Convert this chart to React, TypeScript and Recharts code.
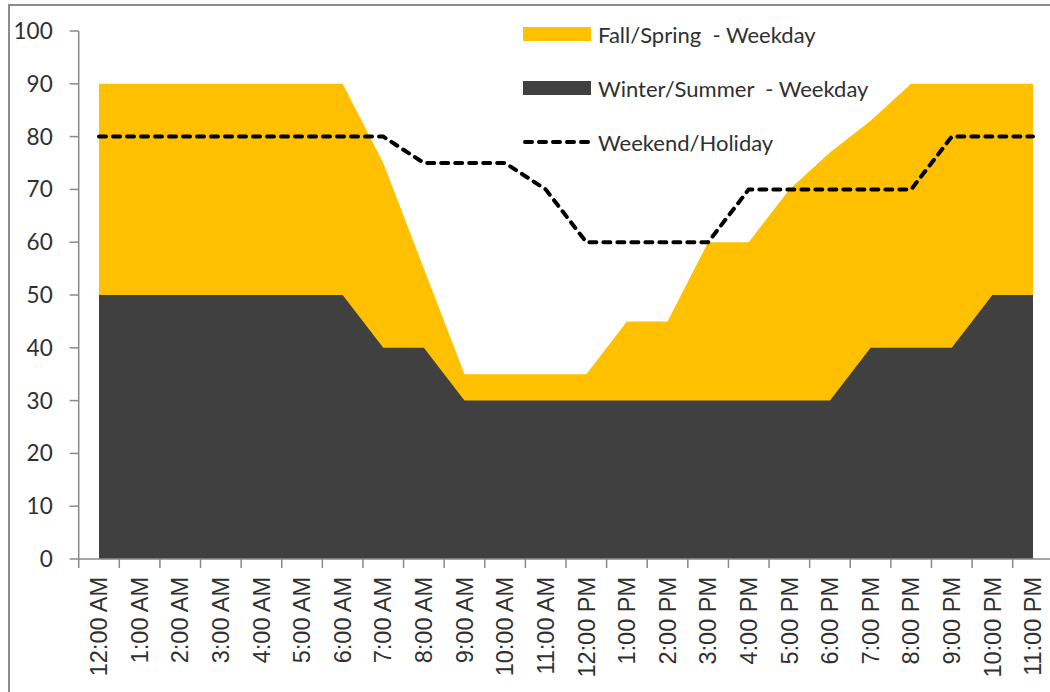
import React from "react";
import { ComposedChart, Area, Line, XAxis, YAxis, Legend } from "recharts";

const hours = [
  "12:00 AM", "1:00 AM", "2:00 AM", "3:00 AM", "4:00 AM", "5:00 AM",
  "6:00 AM", "7:00 AM", "8:00 AM", "9:00 AM", "10:00 AM", "11:00 AM",
  "12:00 PM", "1:00 PM", "2:00 PM", "3:00 PM", "4:00 PM", "5:00 PM",
  "6:00 PM", "7:00 PM", "8:00 PM", "9:00 PM", "10:00 PM", "11:00 PM",
];
const fallSpring = [90, 90, 90, 90, 90, 90, 90, 75, 55, 35, 35, 35, 35, 45, 45, 60, 60, 70, 77, 83, 90, 90, 90, 90];
const winterSummer = [50, 50, 50, 50, 50, 50, 50, 40, 40, 30, 30, 30, 30, 30, 30, 30, 30, 30, 30, 40, 40, 40, 50, 50];
const weekend = [80, 80, 80, 80, 80, 80, 80, 80, 75, 75, 75, 70, 60, 60, 60, 60, 70, 70, 70, 70, 70, 80, 80, 80];
const yTicks = [0, 10, 20, 30, 40, 50, 60, 70, 80, 90, 100];

const seriesNames = {
  fall: "Fall/Spring  - Weekday",
  winter: "Winter/Summer  - Weekday",
  weekend: "Weekend/Holiday",
};

const data = hours.map((h, i) => ({
  hour: h,
  fall: fallSpring[i],
  winter: winterSummer[i],
  weekend: weekend[i],
}));

const CHART_W = 1100;
const CHART_H = 700;
const MARGIN = { top: 31, right: 46.7, left: 8.7, bottom: 11 };
const Y_AXIS_W = 70;
const X_AXIS_H = 130;
const PLOT_W = CHART_W - MARGIN.left - MARGIN.right - Y_AXIS_W;
const BAND = PLOT_W / hours.length;
const TICK_SIZE = 9;
const TICK_MARGIN = 9;

const YELLOW = "#FFC000";
const DARK = "#404040";
const AXIS = "#898989";
const TEXT = "#303030";

const XTick = (props: any) => {
  const { x, y, payload, index } = props;
  const axisY = y - TICK_SIZE - TICK_MARGIN;
  const left = x - BAND / 2;
  const right = x + BAND / 2;
  return (
    <g>
      <line x1={left} x2={left} y1={axisY} y2={axisY + TICK_SIZE} stroke={AXIS} strokeWidth={1.5} />
      {index === hours.length - 1 && (
        <line x1={right} x2={right} y1={axisY} y2={axisY + TICK_SIZE} stroke={AXIS} strokeWidth={1.5} />
      )}
      <text
        x={x}
        y={y}
        transform={`rotate(-90, ${x}, ${y})`}
        textAnchor="end"
        dy="0.35em"
        fontSize={23.5}
        fontFamily="'Liberation Sans', Arial, sans-serif"
        fill={TEXT}
      >
        {payload.value}
      </text>
    </g>
  );
};

const LegendContent = () => {
  const items = [
    { key: "fall", type: "rect", color: YELLOW },
    { key: "winter", type: "rect", color: DARK },
    { key: "weekend", type: "dash", color: "#000" },
  ];
  return (
    <div style={{ fontFamily: "Lato, sans-serif", fontSize: 22, color: TEXT }}>
      {items.map((it) => (
        <div key={it.key} style={{ display: "flex", alignItems: "center", height: 54 }}>
          <svg width={75} height={20} style={{ display: "block" }}>
            {it.type === "rect" ? (
              <rect x={0} y={3} width={68} height={14} fill={it.color} />
            ) : (
              <line x1={2} x2={66} y1={10} y2={10} stroke="#000" strokeWidth={4} strokeDasharray="7 7" strokeLinecap="round" />
            )}
          </svg>
          <span style={{ whiteSpace: "pre" }}>{(seriesNames as any)[it.key]}</span>
        </div>
      ))}
    </div>
  );
};

export default function App() {
  return (
    <div style={{ position: "fixed", left: 0, top: 0, width: 1050, height: 692, overflow: "hidden", background: "#fff" }}>
      <div
        style={{
          position: "absolute",
          left: 8,
          top: 4,
          width: 1200,
          height: 800,
          border: "2px solid #8c8c8c",
          boxSizing: "border-box",
        }}
      />
      <div style={{ position: "absolute", left: 0, top: 0 }}>
        <ComposedChart width={CHART_W} height={CHART_H} data={data} margin={MARGIN}>
          <XAxis
            dataKey="hour"
            type="category"
            scale="point"
            padding={{ left: BAND / 2, right: BAND / 2 }}
            interval={0}
            height={X_AXIS_H}
            tickSize={TICK_SIZE}
            tickMargin={TICK_MARGIN}
            tickLine={false}
            axisLine={{ stroke: AXIS, strokeWidth: 1.5 }}
            tick={<XTick />}
          />
          <YAxis
            type="number"
            domain={[0, 100]}
            ticks={yTicks}
            interval={0}
            width={Y_AXIS_W}
            tickSize={TICK_SIZE}
            tickMargin={17}
            tickLine={{ stroke: AXIS, strokeWidth: 1.5 }}
            axisLine={{ stroke: AXIS, strokeWidth: 1.5 }}
            tick={{ fill: TEXT, fontSize: 22.5, fontFamily: "Lato, sans-serif" }}
          />
          <Legend
            layout="vertical"
            align="center"
            verticalAlign="middle"
            content={<LegendContent />}
            wrapperStyle={{ position: "absolute", left: 523, top: 7, width: "auto" }}
          />
          <Area
            type="linear"
            dataKey="fall"
            name={seriesNames.fall}
            fill={YELLOW}
            fillOpacity={1}
            stroke="none"
            isAnimationActive={false}
          />
          <Area
            type="linear"
            dataKey="winter"
            name={seriesNames.winter}
            fill={DARK}
            fillOpacity={1}
            stroke="none"
            isAnimationActive={false}
          />
          <Line
            type="linear"
            dataKey="weekend"
            name={seriesNames.weekend}
            stroke="#000"
            strokeWidth={4}
            strokeDasharray="7 7"
            strokeLinecap="round"
            dot={false}
            activeDot={false}
            isAnimationActive={false}
          />
        </ComposedChart>
      </div>
    </div>
  );
}
